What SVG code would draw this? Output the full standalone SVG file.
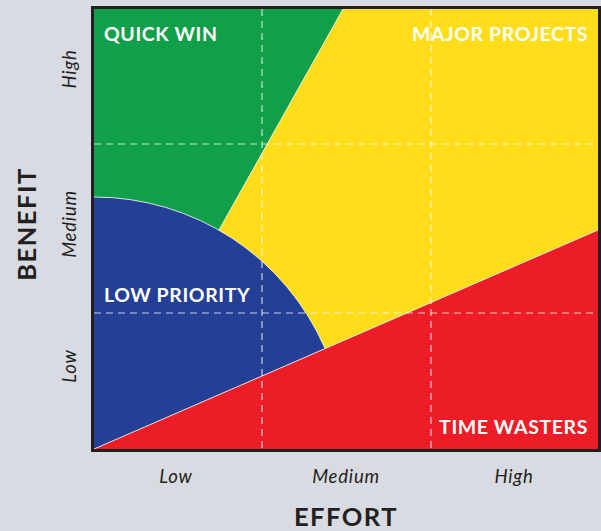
<svg xmlns="http://www.w3.org/2000/svg" width="601" height="531" viewBox="0 0 601 531">
<style>
.q{font-family:Lato,"Liberation Sans",sans-serif;font-weight:bold;fill:#fff;font-size:19.5px;letter-spacing:0.6px}
.ax{font-family:Lato,"Liberation Sans",sans-serif;font-weight:bold;fill:#231f20;font-size:25.5px;letter-spacing:1.5px}
.tk{font-family:Lato,"Liberation Sans",sans-serif;font-style:italic;fill:#231f20;font-size:18.5px;letter-spacing:0.8px;text-anchor:middle}
.edge{stroke:#fff;stroke-width:0.8}
.dash{stroke:#fff;stroke-opacity:0.75;stroke-width:1.2;stroke-dasharray:7 5;fill:none}
</style>
<rect width="601" height="531" fill="#d8dce2"/>
<g id="plot">
<rect x="94" y="9" width="504" height="440" fill="#ffdd1a"/>
</g>
<g id="quick-win">
<polygon points="94,9 343,9 219,230 94,230" fill="#11a049"/>
<line class="edge" x1="343" y1="9" x2="219" y2="230"/>
</g>
<g id="low-priority">
<path d="M94,197 A252,252 0 0 1 325.1,348.6 L94,449 Z" fill="#233f96"/>
<path class="edge" d="M94,197 A252,252 0 0 1 325.1,348.6" fill="none"/>
</g>
<g id="time-wasters">
<polygon points="94,449 598,230 598,449" fill="#ec1d27"/>
<line class="edge" x1="94" y1="449" x2="598" y2="230"/>
</g>
<g id="connectors">
<line class="dash" x1="262" y1="9" x2="262" y2="449"/>
<line class="dash" x1="431" y1="9" x2="431" y2="449"/>
<line class="dash" x1="94" y1="144" x2="598" y2="144"/>
<line class="dash" x1="94" y1="313" x2="598" y2="313"/>
</g>
<rect x="92.5" y="7.5" width="507" height="443" fill="none" stroke="#231f20" stroke-width="3"/>
<text class="q" x="104" y="40.5">QUICK WIN</text>
<text class="q" x="588" y="40.5" text-anchor="end">MAJOR PROJECTS</text>
<text class="q" x="104" y="301.5">LOW PRIORITY</text>
<text class="q" x="588" y="433.5" text-anchor="end">TIME WASTERS</text>
<text class="tk" x="176" y="483">Low</text>
<text class="tk" x="346" y="483">Medium</text>
<text class="tk" x="514" y="483">High</text>
<text class="tk" transform="translate(76,69) rotate(-90)">High</text>
<text class="tk" transform="translate(76,224) rotate(-90)">Medium</text>
<text class="tk" transform="translate(76,366) rotate(-90)">Low</text>
<text class="ax" x="346" y="526" text-anchor="middle">EFFORT</text>
<text class="ax" transform="translate(36,224) rotate(-90)" text-anchor="middle">BENEFIT</text>
</svg>
